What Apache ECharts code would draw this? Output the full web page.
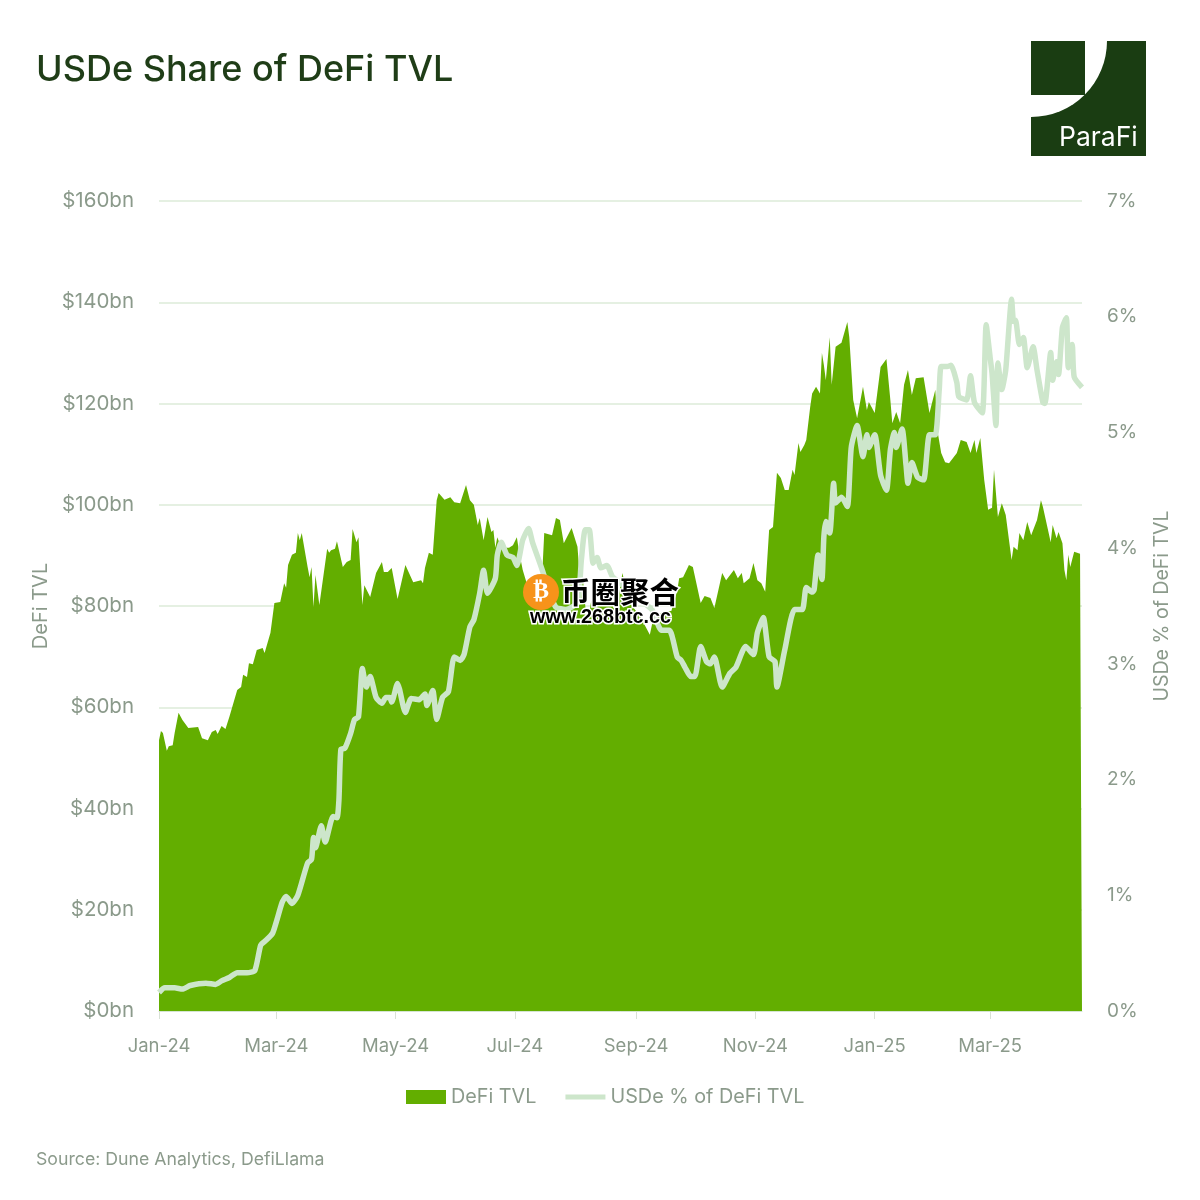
<!DOCTYPE html>
<html>
<head>
<meta charset="utf-8">
<title>USDe Share of DeFi TVL</title>
<script src="https://cdn.jsdelivr.net/npm/echarts@6/dist/echarts.min.js"></script>
<style>
html, body { margin: 0; padding: 0; background: #fff; }
#chart { width: 1200px; height: 1200px; }
</style>
</head>
<body>
<div id="chart"></div>
<script>
// x is days counted from 2024-01-01
var lastDay = 472;

var tvlDays = [0,1,2,4,5,7,8,10,12,13,15,20,22,25,27,29,30,32,34,36,40,42,43,45,46,48,50,53,54,57,59,62,64,65,66,68,70,71,72,73,76,77,78,79,80,82,86,87,88,90,91,94,96,98,99,101,102,104,105,108,111,114,115,117,119,122,126,130,134,135,136,138,140,142,143,146,149,151,154,157,159,161,163,164,166,168,170,171,172,173,175,179,181,183,184,186,190,194,196,197,201,203,205,207,211,214,215,217,218,219,221,225,230,235,237,240,246,251,253,259,262,265,266,268,271,273,277,279,282,284,288,290,294,296,298,299,302,304,306,308,310,312,314,316,318,320,322,324,325,327,328,330,331,333,334,336,338,339,340,341,343,344,346,349,352,353,355,357,360,362,363,366,369,372,374,375,377,379,381,383,385,387,391,394,397,398,400,402,404,408,410,413,415,417,418,420,422,424,426,427,429,431,433,436,437,439,440,442,444,446,449,451,452,456,457,459,460,462,463,464,465,466,468,471,472];
var tvlValues = [53.5,55.3,54.9,51.4,52.3,52.5,54.9,58.9,57.5,57.5,55.9,56.1,53.9,53.5,55.1,55.5,54.7,56.3,55.7,58.1,63.4,64,66.4,66,68.7,68.5,71.3,71.7,70.7,74.7,80.6,80.8,84.5,83.6,88.1,90.1,90.5,94.4,93,94.4,87.7,85.7,87.7,79.8,86.1,80.2,91.3,90.5,91,91.3,92.8,87.7,88.7,89.1,95.2,92.6,93.6,80.2,84.1,81.8,86.5,88.7,86.7,86.7,87.5,81.4,88.1,84.7,85.1,84.5,87.5,90.5,90.1,100.9,102.3,101,101.5,100.5,100.3,103.9,100.9,100,96,97.4,93,97.6,94.6,95,91.5,93.6,91.5,91.5,92,93.6,91,87.1,82,82,86.5,94.4,94,97.4,97,92.4,95.4,91.7,86.5,84.5,80,76,81,80,81,82,86.5,81,78,74.3,78,79,79,83,85.5,85.7,88.1,87.7,80.6,82,81.6,79.6,86.5,85.1,87.1,85.5,86.5,84.5,85.5,88.5,85.1,84.5,82.8,95,95.6,106.3,105.3,102.9,102.9,106.9,105.9,112.2,110.4,111.8,112.8,119.3,122,123.3,122,130,127.6,124.6,133.1,123.7,131.2,132,136.1,133.1,120.7,117.1,123.3,118.7,120.3,118.1,127.2,128.8,120.7,116.1,118.3,116.1,123.7,126.6,121.7,125,125.2,118.1,122.7,114.8,110.2,108.4,108.2,110.2,112.8,112.4,110.2,112.8,110.2,113.2,104.9,99,99.4,106.9,97.6,100.3,98,89.1,91.7,91,94.4,93,96.6,94,97,100.9,99.6,92.6,96,93.4,94.6,92.4,87.1,85.1,90.1,87.7,90.7,90.3,90.3];

var usdeDays = [0,3,8,12,16,24,29,32,36,40,43,45,49,52,54,58,60,63,65,68,71,76,78,79,80,83,85,89,91,92,93,95,98,100,102,104,106,108,111,114,116,118,119,122,123,126,129,133,136,137,140,142,145,148,151,154,156,159,161,164,166,168,172,173,175,178,181,183,186,189,191,196,200,203,208,214,216,218,220,222,224,226,229,232,236,241,246,252,257,261,265,267,269,272,274,277,280,282,284,288,292,295,300,304,306,309,312,315,316,320,325,329,331,334,335,337,339,340,341,343,345,346,349,352,354,357,360,362,363,366,369,372,374,376,377,380,382,383,385,388,391,394,397,399,400,403,405,408,409,413,415,417,421,423,425,426,428,429,431,433,436,437,438,440,442,444,447,449,452,453,456,457,459,460,462,464,465,467,468,472];
var usdeValues = [0.16,0.2,0.2,0.19,0.22,0.24,0.23,0.26,0.29,0.33,0.33,0.33,0.35,0.57,0.6,0.67,0.77,0.94,0.99,0.93,1,1.28,1.31,1.5,1.41,1.6,1.46,1.68,1.67,1.82,2.26,2.27,2.4,2.52,2.54,2.96,2.8,2.89,2.71,2.66,2.71,2.71,2.67,2.83,2.78,2.58,2.7,2.69,2.74,2.64,2.77,2.52,2.71,2.76,3.06,3.03,3.08,3.32,3.38,3.61,3.81,3.61,3.74,3.94,4.05,3.94,3.92,3.85,4.07,4.17,4.05,3.81,3.6,3.49,3.47,3.53,3.9,4.16,4.16,3.87,3.92,3.83,3.85,3.75,3.7,3.6,3.55,3.47,3.29,3.29,3.06,3.03,2.97,2.89,2.89,3.15,3.02,3,3.06,2.8,2.92,2.97,3.15,3.08,3.27,3.4,3.06,3.02,2.8,3.12,3.47,3.47,3.66,3.62,3.64,3.94,3.73,4.1,4.23,4.13,4.56,4.39,4.44,4.36,4.87,5.06,4.79,4.98,4.87,4.98,4.63,4.5,4.85,5,4.87,5.03,4.72,4.56,4.74,4.61,4.59,4.98,4.98,5.37,5.57,5.57,5.58,5.43,5.31,5.28,5.49,5.26,5.17,5.93,5.65,5.51,5.06,5.6,5.37,5.54,6.15,5.96,5.97,5.76,5.82,5.56,5.74,5.54,5.26,5.25,5.69,5.45,5.61,5.5,5.91,5.99,5.56,5.76,5.48,5.39];

var tickDays = [0,60,121,182,244,305,366,425];
var tickLabels = ['Jan-24','Mar-24','May-24','Jul-24','Sep-24','Nov-24','Jan-25','Mar-25'];

var labelColor = '#8b9a8b';
var labelFont = 'Inter';

function toPairs(days, values) {
    return days.map(function (d, i) {
        return [d, values[i]];
    });
}

var chart = echarts.init(document.getElementById('chart'), null, {renderer: 'canvas'});
chart.setOption({
    animation: false,
    backgroundColor: '#fff',
    title: [
        {
            text: 'USDe Share of DeFi TVL',
            left: 31,
            top: 47,
            textStyle: {fontFamily: labelFont, fontSize: 36, fontWeight: 500, color: '#1f3d17'}
        },
        {
            text: 'Source: Dune Analytics, DefiLlama',
            left: 31,
            top: 1146,
            textStyle: {fontFamily: labelFont, fontSize: 17.7, fontWeight: 400, color: labelColor}
        }
    ],
    legend: {
        left: 401,
        top: 1082,
        itemWidth: 40,
        itemHeight: 14,
        itemGap: 29,
        textStyle: {fontFamily: labelFont, fontSize: 19.8, color: labelColor},
        // second icon: a 5px bar inside the 14px box, the outer moves only keep the box height
        data: [
            {name: 'DeFi TVL', icon: 'rect'},
            {name: 'USDe % of DeFi TVL', icon: 'path://M0 0H40M0 4.5H40V9.5H0ZM0 14H40'}
        ]
    },
    grid: {left: 159, right: 118, top: 201, bottom: 189},
    xAxis: {
        type: 'value',
        min: 0,
        max: lastDay,
        axisLine: {lineStyle: {color: '#d5e5d2', width: 1}},
        axisTick: {show: true, length: 8, customValues: tickDays, lineStyle: {color: '#d9e2d6'}},
        splitLine: {show: false},
        axisLabel: {
            customValues: tickDays,
            margin: 26,
            fontFamily: labelFont,
            fontSize: 18.5,
            color: labelColor,
            formatter: function (v) {
                return tickLabels[tickDays.indexOf(v)];
            }
        }
    },
    yAxis: [
        {
            type: 'value',
            min: 0,
            max: 160,
            interval: 20,
            name: 'DeFi TVL',
            nameLocation: 'middle',
            nameRotate: 90,
            nameGap: 106,
            nameTextStyle: {fontFamily: labelFont, fontSize: 20, color: labelColor},
            axisLine: {show: false},
            axisTick: {show: false},
            splitLine: {lineStyle: {color: '#dcebd8', width: 1.5}},
            axisLabel: {
                margin: 25,
                fontFamily: labelFont,
                fontSize: 20.5,
                color: labelColor,
                formatter: '${value}bn'
            }
        },
        {
            type: 'value',
            min: 0,
            max: 7,
            interval: 1,
            name: 'USDe % of DeFi TVL',
            nameLocation: 'middle',
            nameRotate: 90,
            nameGap: 70,
            nameTextStyle: {fontFamily: labelFont, fontSize: 19.5, color: labelColor},
            axisLine: {show: false},
            axisTick: {show: false},
            splitLine: {show: false},
            axisLabel: {
                margin: 25,
                fontFamily: labelFont,
                fontSize: 19,
                color: labelColor,
                formatter: '{value}%'
            }
        }
    ],
    series: [
        {
            name: 'DeFi TVL',
            type: 'line',
            yAxisIndex: 0,
            showSymbol: false,
            symbol: 'none',
            lineStyle: {width: 0},
            itemStyle: {color: '#63ae00'},
            areaStyle: {color: '#63ae00', opacity: 1},
            data: toPairs(tvlDays, tvlValues)
        },
        {
            name: 'USDe % of DeFi TVL',
            type: 'line',
            yAxisIndex: 1,
            showSymbol: false,
            symbol: 'none',
            smooth: 0.2,
            lineStyle: {width: 5.5, color: '#cde6cb', join: 'round'},
            itemStyle: {color: '#cde6cb'},
            data: toPairs(usdeDays, usdeValues)
        }
    ],
    graphic: [
        // ParaFi logo
        {type: 'rect', shape: {x: 1031, y: 41, width: 115, height: 115}, style: {fill: '#1a3d12'}},
        {type: 'sector', shape: {cx: 1031, cy: 41, r: 76, r0: 0, startAngle: 0, endAngle: Math.PI / 2}, style: {fill: '#fff'}},
        {type: 'rect', shape: {x: 1031, y: 41, width: 54, height: 54}, style: {fill: '#1a3d12'}},
        {type: 'text', x: 1059, y: 125, style: {text: 'ParaFi', fill: '#fff', font: '400 26.5px Inter'}},
        // site watermark over the chart
        {type: 'circle', z: 100, shape: {cx: 541, cy: 592, r: 18}, style: {fill: '#f7931a'}},
        {type: 'text', z: 101, x: 541, y: 592, style: {text: '₿', fill: '#fff', font: '700 24px "DejaVu Sans"', align: 'center', verticalAlign: 'middle'}},
        {type: 'text', z: 101, x: 561, y: 577, style: {text: '币圈聚合', fill: '#000', stroke: '#fff', lineWidth: 3, strokeFirst: true, font: '700 29.5px "Noto Sans CJK SC"'}},
        {type: 'text', z: 101, x: 530, y: 608, style: {text: 'www.268btc.cc', fill: '#000', stroke: '#fff', lineWidth: 3, strokeFirst: true, font: '700 19.8px "Liberation Sans"'}}
    ]
});
</script>
</body>
</html>
